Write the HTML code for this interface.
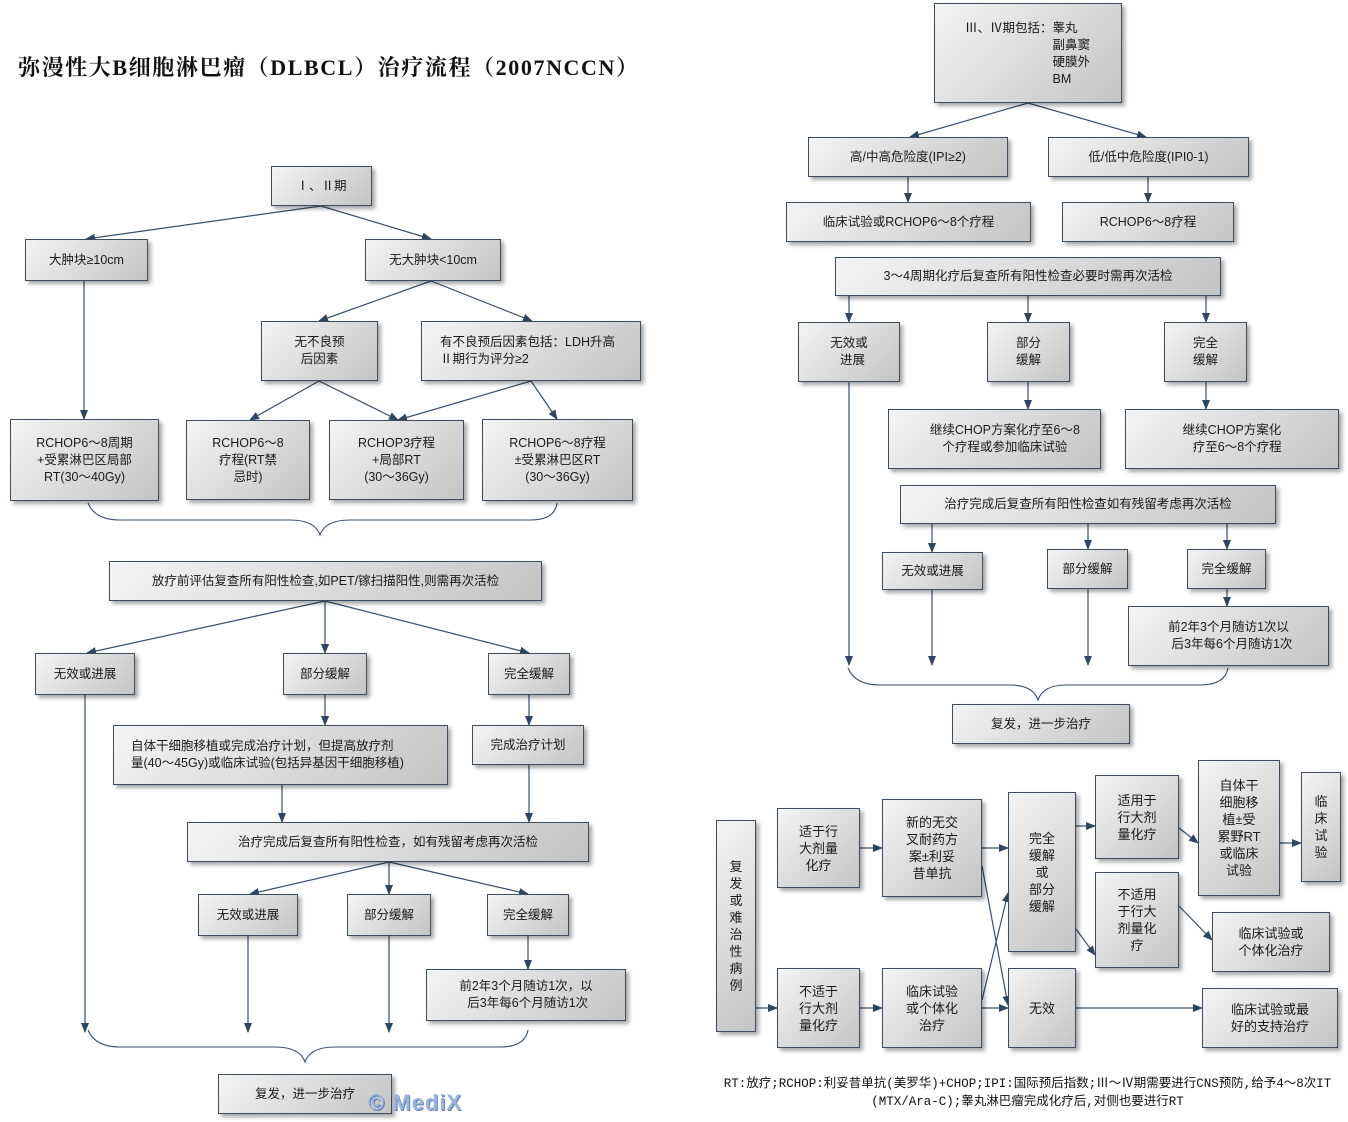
<!DOCTYPE html>
<html><head><meta charset="utf-8">
<style>
*{margin:0;padding:0;box-sizing:border-box}
body{width:1348px;height:1122px;background:#fff;position:relative;overflow:hidden;font-family:"Liberation Serif","Noto Serif CJK SC","Noto Sans CJK SC",serif}
.b{position:absolute;border:1px solid #3d4d60;background:linear-gradient(135deg,#f4f4f4 0%,#dcdcdc 50%,#c4c4c4 100%);box-shadow:3px 3px 4px rgba(0,0,0,.35);display:flex;align-items:center;justify-content:center;text-align:center;font-size:12.5px;line-height:17px;color:#1a1a1a;font-family:"Liberation Sans","Noto Sans CJK SC",sans-serif}
.v{line-height:17px;font-size:13px}
svg{position:absolute;left:0;top:0}
.t{position:absolute;left:18px;top:51px;font-size:22px;font-weight:bold;white-space:nowrap;color:#111;letter-spacing:1.6px}
.fn{position:absolute;left:690px;width:675px;top:1075px;text-align:center;font-size:12.5px;line-height:18px;color:#111;font-family:"Liberation Mono","Noto Sans CJK SC",monospace}
.wm{position:absolute;left:368px;top:1090px;font-size:22px;font-weight:bold;color:#9db3d8;font-family:"Liberation Sans",sans-serif;letter-spacing:1px;text-shadow:1px 1px 0 #5f7fb6}
</style></head><body>
<div class="t">弥漫性大B细胞淋巴瘤（DLBCL）治疗流程（2007NCCN）</div>

<svg width="1348" height="1122">
<defs><marker id="a" markerWidth="10" markerHeight="10" refX="9" refY="5" orient="auto" markerUnits="userSpaceOnUse"><path d="M0,1 L10,5 L0,9 Z" fill="#2f4560"/></marker></defs>
<g stroke="#3a4f68" stroke-width="1.2" fill="none" marker-end="url(#a)">
<line x1="321" y1="206" x2="86" y2="239"/><line x1="321" y1="206" x2="431" y2="239"/>
<line x1="84" y1="281" x2="84" y2="419"/>
<line x1="431" y1="281" x2="319" y2="321"/><line x1="431" y1="281" x2="532" y2="321"/>
<line x1="319" y1="381" x2="250" y2="420"/><line x1="319" y1="381" x2="398" y2="420"/>
<line x1="531" y1="381" x2="398" y2="420"/><line x1="531" y1="381" x2="557" y2="419"/>
<line x1="325" y1="601" x2="87" y2="653"/><line x1="325" y1="601" x2="325" y2="653"/><line x1="325" y1="601" x2="529" y2="653"/>
<line x1="325" y1="695" x2="325" y2="725"/><line x1="529" y1="695" x2="529" y2="725"/>
<line x1="282" y1="785" x2="282" y2="822"/><line x1="529" y1="765" x2="529" y2="822"/>
<line x1="389" y1="862" x2="250" y2="894"/><line x1="389" y1="862" x2="389" y2="894"/><line x1="389" y1="862" x2="528" y2="894"/>
<line x1="85" y1="695" x2="85" y2="1032"/><line x1="248" y1="936" x2="248" y2="1032"/><line x1="389" y1="936" x2="389" y2="1032"/><line x1="528" y1="936" x2="528" y2="969"/>
<line x1="1028" y1="103" x2="910" y2="137"/><line x1="1028" y1="103" x2="1146" y2="137"/>
<line x1="908" y1="177" x2="908" y2="202"/><line x1="1148" y1="177" x2="1148" y2="202"/>
<line x1="849" y1="296" x2="849" y2="322"/><line x1="1028" y1="296" x2="1028" y2="322"/><line x1="1206" y1="296" x2="1206" y2="322"/>
<line x1="1028" y1="382" x2="1028" y2="409"/><line x1="1206" y1="382" x2="1206" y2="409"/>
<line x1="849" y1="382" x2="849" y2="665"/>
<line x1="932" y1="524" x2="932" y2="552"/><line x1="1088" y1="524" x2="1088" y2="549"/><line x1="1227" y1="524" x2="1227" y2="549"/>
<line x1="1227" y1="589" x2="1227" y2="606"/>
<line x1="932" y1="590" x2="932" y2="665"/><line x1="1088" y1="589" x2="1088" y2="665"/>
<line x1="750" y1="1008" x2="777" y2="1008"/>
<line x1="860" y1="848" x2="882" y2="848"/><line x1="982" y1="848" x2="1008" y2="848"/>
<line x1="982" y1="866" x2="1008" y2="1005"/><line x1="982" y1="1000" x2="1008" y2="893"/>
<line x1="860" y1="1008" x2="882" y2="1008"/><line x1="982" y1="1008" x2="1008" y2="1008"/>
<line x1="1076" y1="826" x2="1095" y2="826"/><line x1="1076" y1="929" x2="1095" y2="955"/>
<line x1="1179" y1="828" x2="1198" y2="843"/><line x1="1280" y1="843" x2="1301" y2="843"/>
<line x1="1179" y1="906" x2="1212" y2="940"/><line x1="1076" y1="1008" x2="1202" y2="1008"/>
</g>
<g stroke="#3a4f68" stroke-width="1.1" fill="none">
<path d="M88,503 Q95,520 120,520 L290,520 Q315,520 320,535 Q325,520 350,520 L530,520 Q555,520 557,503"/>
<path d="M88,1030 Q95,1047 120,1047 L275,1047 Q300,1047 305,1062 Q310,1047 335,1047 L500,1047 Q525,1047 528,1030"/>
<path d="M848,668 Q855,685 880,685 L1010,685 Q1033,685 1038,700 Q1043,685 1066,685 L1200,685 Q1225,685 1228,668"/>
</g>
</svg>

<div class="b" style="left:271px;top:166px;width:101px;height:40px">Ⅰ、Ⅱ期</div>
<div class="b" style="left:25px;top:239px;width:123px;height:42px">大肿块≥10cm</div>
<div class="b" style="left:365px;top:239px;width:136px;height:42px">无大肿块&lt;10cm</div>
<div class="b" style="left:261px;top:321px;width:117px;height:60px">无不良预<br>后因素</div>
<div class="b" style="left:421px;top:321px;width:220px;height:60px;text-align:left;justify-content:flex-start;padding-left:18px">有不良预后因素包括：LDH升高<br>Ⅱ期行为评分≥2</div>
<div class="b" style="left:10px;top:419px;width:149px;height:82px">RCHOP6～8周期<br>+受累淋巴区局部<br>RT(30～40Gy)</div>
<div class="b" style="left:186px;top:420px;width:124px;height:80px">RCHOP6～8<br>疗程(RT禁<br>忌时)</div>
<div class="b" style="left:329px;top:420px;width:135px;height:80px">RCHOP3疗程<br>+局部RT<br>(30～36Gy)</div>
<div class="b" style="left:482px;top:419px;width:151px;height:82px">RCHOP6～8疗程<br>±受累淋巴区RT<br>(30～36Gy)</div>
<div class="b" style="left:109px;top:561px;width:433px;height:40px">放疗前评估复查所有阳性检查,如PET/镓扫描阳性,则需再次活检</div>
<div class="b" style="left:35px;top:653px;width:100px;height:42px">无效或进展</div>
<div class="b" style="left:283px;top:653px;width:84px;height:42px">部分缓解</div>
<div class="b" style="left:488px;top:653px;width:82px;height:42px">完全缓解</div>
<div class="b" style="left:113px;top:725px;width:335px;height:60px;text-align:left;justify-content:flex-start;padding-left:17px">自体干细胞移植或完成治疗计划，但提高放疗剂<br>量(40～45Gy)或临床试验(包括异基因干细胞移植)</div>
<div class="b" style="left:472px;top:725px;width:112px;height:40px">完成治疗计划</div>
<div class="b" style="left:187px;top:822px;width:402px;height:40px">治疗完成后复查所有阳性检查，如有残留考虑再次活检</div>
<div class="b" style="left:198px;top:894px;width:100px;height:42px">无效或进展</div>
<div class="b" style="left:347px;top:894px;width:84px;height:42px">部分缓解</div>
<div class="b" style="left:487px;top:894px;width:82px;height:42px">完全缓解</div>
<div class="b" style="left:426px;top:969px;width:200px;height:52px">前2年3个月随访1次，以<br>&nbsp;后3年每6个月随访1次</div>
<div class="b" style="left:218px;top:1074px;width:174px;height:40px">复发，进一步治疗</div>
<div class="wm">© MediX</div>

<div class="b" style="left:934px;top:3px;width:188px;height:100px;align-items:flex-start;padding-top:16px;justify-content:flex-start;padding-left:30px;text-align:left">Ⅲ、Ⅳ期包括：<span style="display:inline-block">睾丸<br>副鼻窦<br>硬膜外<br>BM</span></div>
<div class="b" style="left:808px;top:137px;width:200px;height:40px">高/中高危险度(IPI≥2)</div>
<div class="b" style="left:1048px;top:137px;width:201px;height:40px">低/低中危险度(IPI0-1)</div>
<div class="b" style="left:786px;top:202px;width:245px;height:40px">临床试验或RCHOP6～8个疗程</div>
<div class="b" style="left:1062px;top:202px;width:172px;height:40px">RCHOP6～8疗程</div>
<div class="b" style="left:835px;top:257px;width:386px;height:39px">3～4周期化疗后复查所有阳性检查必要时需再次活检</div>
<div class="b" style="left:798px;top:322px;width:102px;height:60px">无效或<br>&nbsp;&nbsp;进展</div>
<div class="b" style="left:987px;top:322px;width:83px;height:60px">部分<br>缓解</div>
<div class="b" style="left:1164px;top:322px;width:83px;height:60px">完全<br>缓解</div>
<div class="b" style="left:888px;top:409px;width:213px;height:60px">&nbsp;&nbsp;&nbsp;&nbsp;&nbsp;&nbsp;继续CHOP方案化疗至6～8<br>&nbsp;&nbsp;&nbsp;&nbsp;&nbsp;&nbsp;个疗程或参加临床试验</div>
<div class="b" style="left:1125px;top:409px;width:214px;height:60px">继续CHOP方案化<br>&nbsp;&nbsp;&nbsp;疗至6～8个疗程</div>
<div class="b" style="left:900px;top:485px;width:376px;height:39px">治疗完成后复查所有阳性检查如有残留考虑再次活检</div>
<div class="b" style="left:882px;top:552px;width:101px;height:38px">无效或进展</div>
<div class="b" style="left:1047px;top:549px;width:81px;height:40px">部分缓解</div>
<div class="b" style="left:1187px;top:549px;width:79px;height:40px">完全缓解</div>
<div class="b" style="left:1128px;top:606px;width:201px;height:60px">前2年3个月随访1次以<br>&nbsp;&nbsp;后3年每6个月随访1次</div>
<div class="b" style="left:952px;top:704px;width:178px;height:40px">复发，进一步治疗</div>

<div class="b v" style="left:716px;top:820px;width:40px;height:212px">复<br>发<br>或<br>难<br>治<br>性<br>病<br>例</div>
<div class="b v" style="left:777px;top:808px;width:83px;height:80px">适于行<br>大剂量<br>化疗</div>
<div class="b v" style="left:882px;top:799px;width:100px;height:98px">新的无交<br>叉耐药方<br>案±利妥<br>昔单抗</div>
<div class="b v" style="left:1008px;top:792px;width:68px;height:160px">完全<br>缓解<br>或<br>部分<br>缓解</div>
<div class="b v" style="left:1095px;top:775px;width:84px;height:84px">适用于<br>行大剂<br>量化疗</div>
<div class="b v" style="left:1198px;top:760px;width:82px;height:136px">自体干<br>细胞移<br>植±受<br>累野RT<br>或临床<br>试验</div>
<div class="b v" style="left:1301px;top:772px;width:40px;height:110px">临<br>床<br>试<br>验</div>
<div class="b v" style="left:1095px;top:872px;width:84px;height:96px">不适用<br>于行大<br>剂量化<br>疗</div>
<div class="b v" style="left:1212px;top:912px;width:118px;height:60px">临床试验或<br>个体化治疗</div>
<div class="b v" style="left:777px;top:968px;width:83px;height:80px">不适于<br>行大剂<br>量化疗</div>
<div class="b v" style="left:882px;top:968px;width:100px;height:80px">临床试验<br>或个体化<br>治疗</div>
<div class="b v" style="left:1008px;top:968px;width:68px;height:80px">无效</div>
<div class="b v" style="left:1202px;top:988px;width:136px;height:60px">临床试验或最<br>好的支持治疗</div>

<div class="fn">RT:放疗;RCHOP:利妥昔单抗(美罗华)+CHOP;IPI:国际预后指数;Ⅲ～Ⅳ期需要进行CNS预防,给予4～8次IT<br>(MTX/Ara-C);睾丸淋巴瘤完成化疗后,对侧也要进行RT</div>
</body></html>
